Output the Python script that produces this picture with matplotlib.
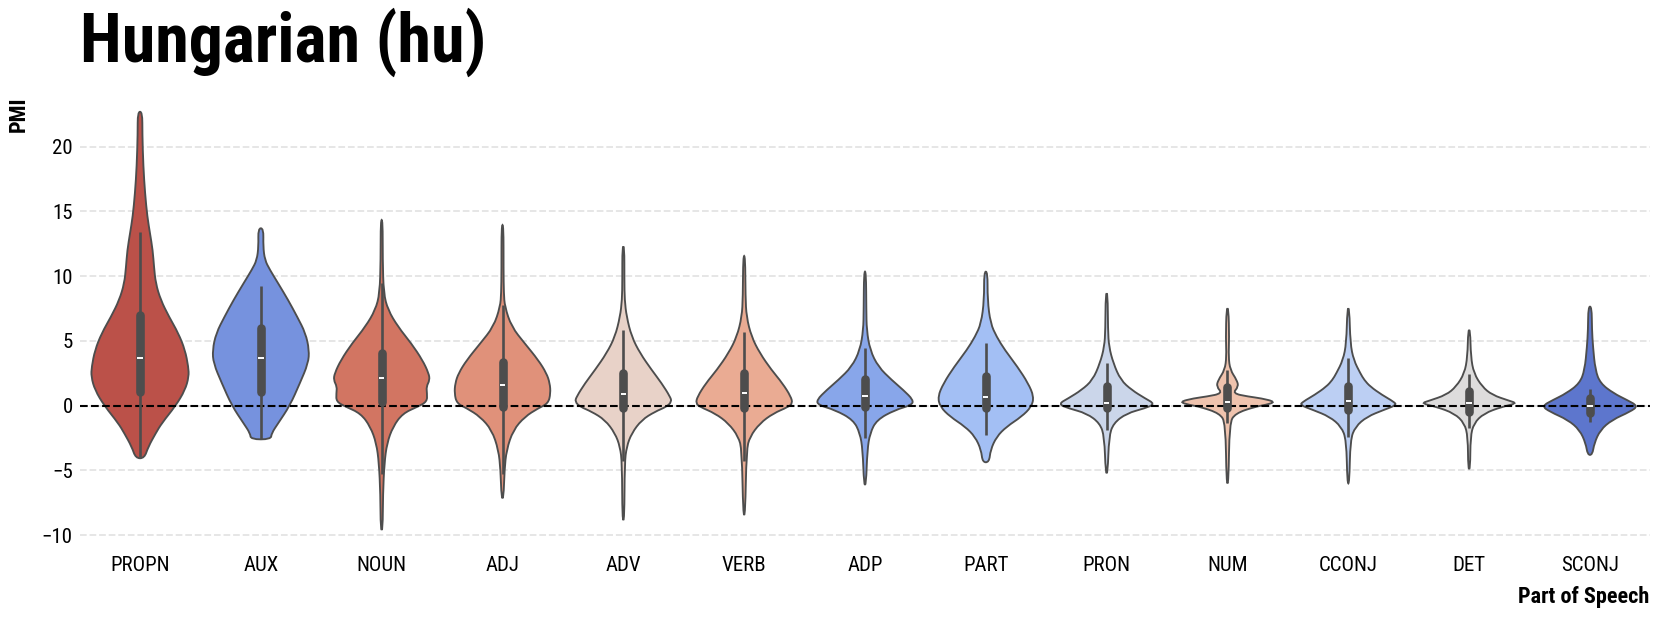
import numpy as np
import matplotlib
matplotlib.use("Agg")
import matplotlib.pyplot as plt
from matplotlib import font_manager as fm
from matplotlib.path import Path
from matplotlib.patches import PathPatch

# part-of-speech categories, left to right
pos_tags = ["PROPN", "AUX", "NOUN", "ADJ", "ADV", "VERB", "ADP", "PART",
            "PRON", "NUM", "CCONJ", "DET", "SCONJ"]

# violin outlines: PMI value and relative density (1 = widest)
propn_pmi = [22.7, 21.0, 18.5, 16.4, 14.6, 13.3, 12.0, 10.7, 9.45, 8.16, 6.87, 5.6, 4.3, 3.0, 2.24, 1.2, 0.0, -1.36, -2.13, -3.17, -4.06]
propn_den = [0.048, 0.048, 0.068, 0.104, 0.151, 0.207, 0.263, 0.29, 0.325, 0.429, 0.6, 0.793, 0.932, 1.0, 1.01, 0.932, 0.739, 0.449, 0.325, 0.172, 0.089]
aux_pmi = [13.7, 12.3, 11.25, 10.5, 9.45, 8.16, 6.87, 5.6, 4.3, 3.27, 1.73, 0.0, -1.36, -2.13, -2.6]
aux_den = [0.056, 0.048, 0.083, 0.186, 0.358, 0.565, 0.752, 0.925, 1.0, 0.98, 0.807, 0.6, 0.358, 0.222, 0.207]
noun_pmi = [14.34, 11.25, 8.68, 7.4, 6.1, 4.8, 3.53, 2.5, 1.98, 1.47, 0.95, 0.31, -0.08, -0.6, -1.62, -2.9, -4.45, -6.8, -9.6]
noun_den = [0.021, 0.021, 0.041, 0.13, 0.337, 0.615, 0.843, 0.973, 0.994, 0.925, 0.938, 0.938, 0.745, 0.435, 0.234, 0.11, 0.056, 0.027, 0.021]
adj_pmi = [13.95, 10.5, 8.68, 7.65, 6.1, 4.8, 3.53, 2.5, 1.73, 0.95, 0.18, -0.2, -0.85, -1.88, -3.42, -4.97, -7.15]
adj_den = [0.021, 0.021, 0.027, 0.048, 0.186, 0.462, 0.739, 0.911, 0.979, 0.994, 0.946, 0.739, 0.462, 0.222, 0.083, 0.041, 0.021]
adv_pmi = [12.3, 9.7, 8.16, 6.87, 5.33, 4.05, 2.76, 1.73, 0.7, 0.31, -0.08, -0.46, -1.1, -2.13, -3.17, -4.45, -8.83]
adv_den = [0.021, 0.021, 0.027, 0.068, 0.172, 0.346, 0.586, 0.793, 0.967, 1.0, 0.896, 0.656, 0.379, 0.172, 0.068, 0.027, 0.021]
verb_pmi = [11.56, 8.4, 6.87, 5.33, 4.05, 2.76, 1.73, 0.7, 0.18, -0.1, -0.6, -1.36, -2.4, -3.42, -8.44]
verb_den = [0.021, 0.027, 0.048, 0.151, 0.325, 0.565, 0.793, 0.967, 1.0, 0.911, 0.6, 0.325, 0.118, 0.048, 0.021]
adp_pmi = [10.35, 7.4, 5.85, 4.3, 3.0, 1.98, 1.21, 0.44, 0.05, -0.33, -1.1, -2.13, -3.42, -6.12]
adp_den = [0.021, 0.027, 0.035, 0.104, 0.275, 0.553, 0.793, 1.0, 0.967, 0.621, 0.242, 0.104, 0.048, 0.021]
part_pmi = [10.35, 8.16, 6.36, 5.33, 4.3, 3.0, 1.73, 0.7, -0.08, -0.85, -1.62, -2.4, -3.42, -4.37]
part_den = [0.037, 0.035, 0.097, 0.222, 0.393, 0.656, 0.876, 0.994, 0.946, 0.739, 0.429, 0.222, 0.097, 0.068]
pron_pmi = [8.68, 5.85, 4.56, 3.27, 1.98, 1.21, 0.57, 0.13, -0.2, -0.59, -1.36, -2.4, -5.22]
pron_den = [0.021, 0.027, 0.048, 0.139, 0.29, 0.518, 0.793, 1.0, 0.793, 0.414, 0.139, 0.048, 0.021]
num_pmi = [7.52, 5.2, 3.78, 2.76, 1.98, 1.47, 0.95, 0.7, 0.57, 0.29, 0.05, -0.08, -0.6, -1.36, -6.0]
num_den = [0.021, 0.035, 0.021, 0.056, 0.193, 0.228, 0.104, 0.435, 0.7, 1.0, 0.78, 0.573, 0.159, 0.041, 0.021]
cconj_pmi = [7.52, 4.82, 3.53, 2.5, 1.98, 1.47, 0.83, 0.31, 0.05, -0.33, -0.85, -1.62, -2.65, -6.0]
cconj_den = [0.021, 0.041, 0.11, 0.248, 0.331, 0.455, 0.698, 0.938, 1.0, 0.731, 0.387, 0.145, 0.041, 0.021]
det_pmi = [5.85, 3.78, 2.5, 1.47, 0.83, 0.39, 0.18, -0.08, -0.6, -1.36, -2.4, -4.9]
det_den = [0.021, 0.035, 0.097, 0.269, 0.476, 0.822, 0.994, 0.683, 0.304, 0.097, 0.027, 0.021]
sconj_pmi = [7.65, 5.85, 4.56, 2.76, 1.73, 0.95, 0.44, -0.03, -0.46, -1.1, -1.88, -2.9, -3.8]
sconj_den = [0.035, 0.041, 0.062, 0.11, 0.213, 0.491, 0.766, 0.994, 0.834, 0.455, 0.213, 0.089, 0.048]

outline_pmi = [propn_pmi, aux_pmi, noun_pmi, adj_pmi, adv_pmi, verb_pmi, adp_pmi,
               part_pmi, pron_pmi, num_pmi, cconj_pmi, det_pmi, sconj_pmi]
outline_den = [propn_den, aux_den, noun_den, adj_den, adv_den, verb_den, adp_den,
               part_den, pron_den, num_den, cconj_den, det_den, sconj_den]

# inner box: quartiles, median and whisker ends
q1 = [1.08, 1.08, 0.3, -0.08, -0.2, -0.2, -0.13, -0.2, -0.2, -0.2, -0.33, -0.46, -0.59]
med = [3.66, 3.7, 2.16, 1.6, 0.9, 0.95, 0.77, 0.7, 0.23, 0.31, 0.39, 0.23, 0.0]
q3 = [7.0, 5.98, 4.05, 3.4, 2.5, 2.5, 2.04, 2.29, 1.52, 1.42, 1.52, 1.13, 0.57]
whis_lo = [-4.0, -2.55, -5.3, -5.3, -4.3, -4.3, -2.5, -2.3, -1.88, -1.36, -2.4, -1.75, -1.23]
whis_hi = [13.4, 9.24, 9.5, 7.8, 5.85, 5.7, 4.43, 4.82, 3.3, 2.76, 3.66, 2.42, 1.26]

violin_colors = ["#bb5149", "#7692de", "#d27562", "#e0917a", "#e8d2c8", "#eaab93", "#88a6ea",
                 "#a3bff4", "#cbd6ea", "#efc3ae", "#bccff3", "#dddcdc", "#5d76cd"]

names = {f.name for f in fm.fontManager.ttflist}
fam = "Roboto Condensed" if "Roboto Condensed" in names else "Roboto"
plt.rcParams["font.family"] = [fam, "DejaVu Sans"]

W, H = 1661, 619
fig = plt.figure(figsize=(W / 100, H / 100), dpi=100)
ax = fig.add_axes([79.6 / W, 1 - 545 / H, (1650.4 - 79.6) / W, (545 - 97) / H])


def smooth_outline(xs, ys):
    # closed quadratic-bezier path through the midpoints, read points as control points
    pts = np.column_stack([xs, ys])
    nxt = np.roll(pts, -1, axis=0)
    mids = (pts + nxt) / 2
    verts = [mids[-1]]
    codes = [Path.MOVETO]
    for p, m in zip(pts, mids):
        verts += [p, m]
        codes += [Path.CURVE3, Path.CURVE3]
    verts.append(mids[-1])
    codes.append(Path.CLOSEPOLY)
    return Path(verts, codes)


half_max = 0.4
for i in range(len(pos_tags)):
    v = np.array(outline_pmi[i])
    d = np.array(outline_den[i]) * half_max
    xs = np.concatenate([i - d, (i + d)[::-1]])
    ys = np.concatenate([v, v[::-1]])
    patch = PathPatch(smooth_outline(xs, ys), facecolor=violin_colors[i],
                      edgecolor="#4d4d4d", linewidth=1.35, zorder=2)
    ax.add_patch(patch)

ax.axhline(0, color="black", linestyle="--", linewidth=1.5, zorder=3)

x = np.arange(len(pos_tags))
ax.vlines(x, whis_lo, whis_hi, color="#4d4d4d", linewidth=1.9, zorder=4)
ax.vlines(x, q1, q3, color="#4d4d4d", linewidth=6.2, zorder=4, capstyle="round")
ax.hlines(med, x - 0.022, x + 0.022, color="white", linewidth=1.4, zorder=5)

ax.set_xlim(-0.5, len(pos_tags) - 0.5)
ax.set_ylim(-10.76, 23.84)
ax.set_xticks(x)
ax.set_xticklabels(pos_tags)
ax.set_yticks([-10, -5, 0, 5, 10, 15, 20])
ax.tick_params(axis="both", length=0, labelsize=15)
ax.tick_params(axis="x", pad=8)
ax.tick_params(axis="y", pad=5)
ax.yaxis.grid(True, color="#e4e4e4", linestyle="--", linewidth=1.3, zorder=0)
ax.set_axisbelow(True)
for s in ax.spines.values():
    s.set_visible(False)

fig.text(80 / W, 1 - 62 / H, "Hungarian (hu)", fontsize=49, fontweight="bold",
         ha="left", va="baseline")
fig.text(19 / W, 1 - 97 / H, "PMI", fontsize=16, fontweight="bold", rotation=90,
         ha="center", va="top")
fig.text(1649 / W, 1 - 603 / H, "Part of Speech", fontsize=16, fontweight="bold",
         ha="right", va="baseline")

fig.savefig("out.png", dpi=100)
